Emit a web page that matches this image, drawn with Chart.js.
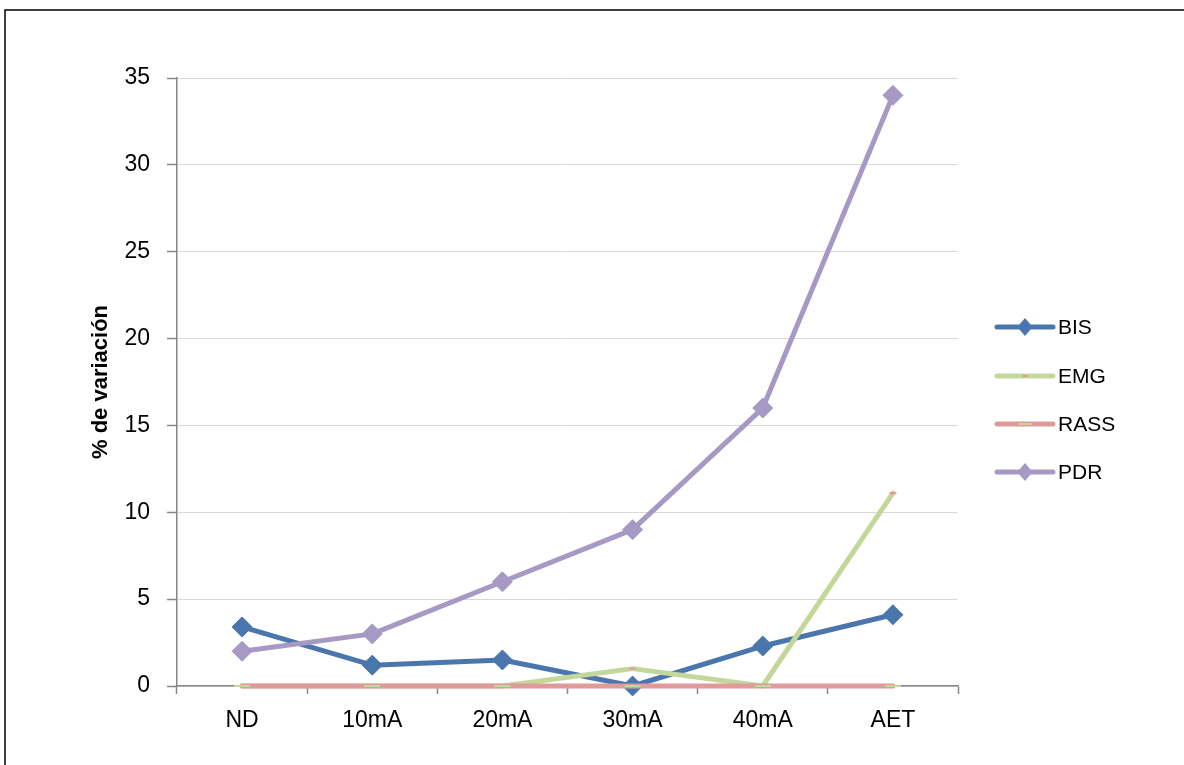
<!DOCTYPE html>
<html>
<head>
<meta charset="utf-8">
<script src="https://cdn.jsdelivr.net/npm/chart.js@4.4.1/dist/chart.umd.min.js"></script>
<style>
  html, body { margin: 0; padding: 0; background: #fff; }
  #wrap { width: 1184px; height: 765px; position: relative; }
</style>
</head>
<body>
<div id="wrap"><canvas id="c" width="1184" height="765"></canvas></div>
<script>
// Etapas de estimulación (eje X)
const categories = ['ND', '10mA', '20mA', '30mA', '40mA', 'AET'];

// % de variación por índice
const bisValues  = [3.4, 1.2, 1.5, 0, 2.3, 4.1];
const emgValues  = [0, 0, 0, 1, 0, 11.1];
const rassValues = [0, 0, 0, 0, 0, 0];
const pdrValues  = [2, 3, 6, 9, 16, 34];

const seriesNames = ['BIS', 'EMG', 'RASS', 'PDR'];

const yTicks = { min: 0, max: 35, step: 5 };

const FONT = "'Liberation Sans', Arial, sans-serif";

const colors = {
  BIS:  '#4a76ad',
  EMG:  '#c4d79b',
  RASS: '#e09a99',
  PDR:  '#a699c3'
};

// Outer frame, axis title and custom legend (line + marker samples)
const decorations = {
  id: 'decorations',
  beforeDraw(chart) {
    const ctx = chart.ctx;
    ctx.save();
    ctx.fillStyle = '#fff';
    ctx.fillRect(0, 0, chart.width, chart.height);
    ctx.restore();
  },
  afterDraw(chart) {
    const ctx = chart.ctx;
    const area = chart.chartArea;
    ctx.save();

    // frame
    ctx.strokeStyle = '#000';
    ctx.lineWidth = 1.5;
    ctx.beginPath();
    ctx.moveTo(5, chart.height + 2);
    ctx.lineTo(5, 10);
    ctx.lineTo(chart.width + 2, 10);
    ctx.stroke();

    // y-axis title
    ctx.fillStyle = '#000';
    ctx.font = 'bold 22px ' + FONT;
    ctx.textAlign = 'center';
    ctx.textBaseline = 'middle';
    ctx.translate(101, (area.top + area.bottom) / 2);
    ctx.rotate(-Math.PI / 2);
    ctx.fillText('% de variación', 0, 0);
    ctx.restore();

    // legend
    ctx.save();
    const x0 = 997, x1 = 1053, xm = 1025, xt = 1058;
    const ys = [327, 376, 424, 472];
    chart.data.datasets.forEach((ds, i) => {
      const y = ys[i];
      ctx.strokeStyle = ds.borderColor;
      ctx.lineWidth = 5;
      ctx.lineCap = 'round';
      ctx.beginPath();
      ctx.moveTo(x0, y);
      ctx.lineTo(x1, y);
      ctx.stroke();
      if (ds.pointStyle === 'rectRot') {
        const r = 9;
        ctx.fillStyle = ds.pointBackgroundColor;
        ctx.beginPath();
        ctx.moveTo(xm, y - r);
        ctx.lineTo(xm + r * 0.85, y);
        ctx.lineTo(xm, y + r);
        ctx.lineTo(xm - r * 0.85, y);
        ctx.closePath();
        ctx.fill();
      } else {
        const r = ds.pointRadius * 0.8;
        ctx.strokeStyle = ds.pointBorderColor;
        ctx.lineWidth = 2;
        ctx.lineCap = 'butt';
        ctx.beginPath();
        ctx.moveTo(xm - r, y);
        ctx.lineTo(xm + r, y);
        ctx.stroke();
      }
      ctx.fillStyle = '#000';
      ctx.font = '21px ' + FONT;
      ctx.textAlign = 'left';
      ctx.textBaseline = 'middle';
      ctx.fillText(ds.label, xt, y + 1);
    });
    ctx.restore();
  }
};

function lineSeries(name, values, order, style) {
  return Object.assign({
    label: name,
    data: values,
    borderColor: colors[name],
    backgroundColor: colors[name],
    borderWidth: 5,
    tension: 0,
    borderCapStyle: 'round',
    borderJoinStyle: 'round',
    fill: false,
    clip: false,
    order: order
  }, style);
}

const diamond = (name) => ({
  pointStyle: 'rectRot',
  pointRadius: 10,
  pointHoverRadius: 10,
  pointBackgroundColor: colors[name],
  pointBorderColor: colors[name],
  pointBorderWidth: 1
});

const dash = (color, r) => ({
  pointStyle: 'line',
  pointRadius: r,
  pointHoverRadius: r,
  pointBackgroundColor: color,
  pointBorderColor: color,
  pointBorderWidth: 2
});

new Chart(document.getElementById('c'), {
  type: 'line',
  data: {
    labels: categories,
    datasets: [
      lineSeries(seriesNames[0], bisValues, 4, diamond('BIS')),
      lineSeries(seriesNames[1], emgValues, 3, dash(colors.RASS, 3.5)),
      lineSeries(seriesNames[2], rassValues, 2, dash(colors.EMG, 8)),
      lineSeries(seriesNames[3], pdrValues, 1, diamond('PDR'))
    ]
  },
  options: {
    responsive: false,
    animation: false,
    events: [],
    layout: { padding: { left: 0, right: 226, top: 78, bottom: 0 } },
    plugins: {
      legend: { display: false },
      tooltip: { enabled: false },
      title: { display: false }
    },
    scales: {
      x: {
        type: 'category',
        offset: true,
        afterFit(scale) { scale.height = 79; },
        grid: {
          offset: true,
          drawOnChartArea: false,
          drawTicks: true,
          tickLength: 8,
          tickColor: '#868686',
          tickWidth: 1.5
        },
        border: { color: '#868686', width: 1.5 },
        ticks: {
          color: '#000',
          padding: 13,
          maxRotation: 0,
          font: { family: FONT, size: 23 }
        }
      },
      y: {
        min: yTicks.min,
        max: yTicks.max,
        afterFit(scale) { scale.width = 177; },
        grid: {
          color: '#d9d9d9',
          lineWidth: 1,
          drawTicks: true,
          tickLength: 10,
          tickColor: '#868686',
          tickWidth: 1.5
        },
        border: { color: '#868686', width: 1.5 },
        ticks: {
          stepSize: yTicks.step,
          color: '#000',
          padding: 17,
          font: { family: FONT, size: 23 }
        }
      }
    }
  },
  plugins: [decorations]
});
</script>
</body>
</html>
